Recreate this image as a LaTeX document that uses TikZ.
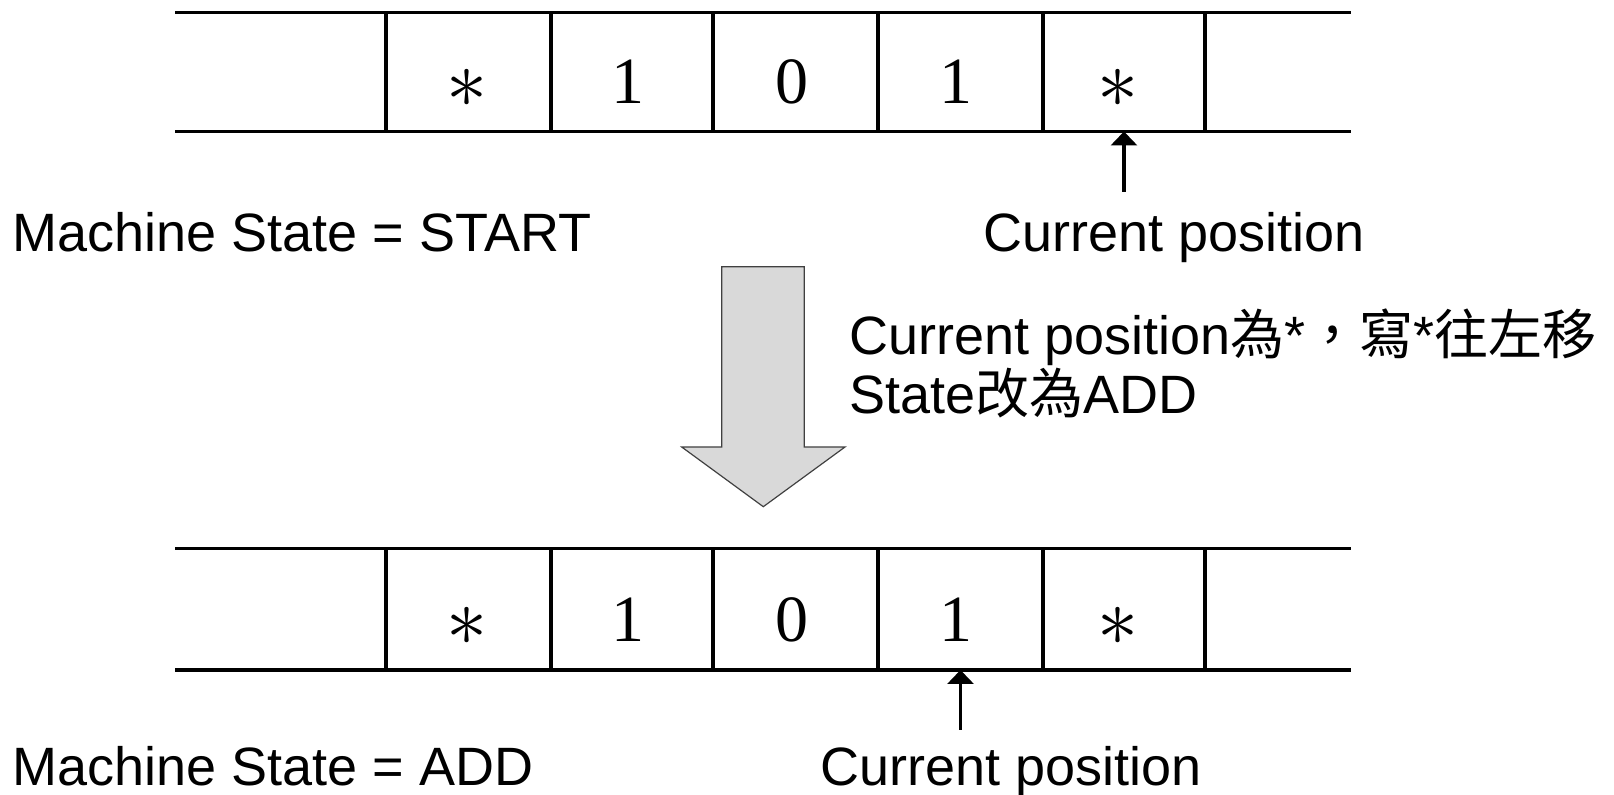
\documentclass[tikz,border=0pt]{standalone}
\usepackage{graphicx}
\usepackage{fontspec}
\setmainfont{Liberation Sans}
\newfontfamily\cjk{Noto Sans CJK TC}
\newfontfamily\tapefont{Liberation Serif}
\usetikzlibrary{arrows.meta}
\newcommand\tapeast{\raisebox{-1.6pt}{\scalebox{1.65}{$\ast$}}}
\begin{document}
\begin{tikzpicture}[x=0.5pt,y=-0.5pt,
  tapeline/.style={line width=1.7pt, line cap=butt},
  cellsym/.style={font=\tapefont\fontsize{33}{33}\selectfont, anchor=base, inner sep=0pt},
  lbl/.style={font=\fontsize{27}{32}\selectfont, anchor=base west, inner sep=0pt},
  pointer/.style={line width=1.6pt, -{Triangle[width=13pt,length=7pt]}},
  bigarrow/.style={fill=black!15, draw=black!75, line width=0.6pt, line join=miter},
]
\useasboundingbox (0,0) rectangle (1614,795);

% two tapes: top edge, bottom edge, baseline of the symbols
\foreach \t/\ya/\yb/\yt in {A/12.5/131.5/104, B/548.5/670/642} {
  \draw[tapeline] (175,\ya) -- (1351,\ya);
  \draw[tapeline] (175,\yb) -- (1351,\yb);
  \foreach \x in {386,551,713,878,1043,1205}
    \draw[tapeline] (\x,\ya) -- (\x,\yb);
  \foreach \i/\cx/\s in {1/467/\tapeast,2/628/1,3/792/0,4/956/1,5/1118/\tapeast} {
    \node[cellsym] (\t\i) at (\cx,\yt) {\s};
  }
}

% head position markers
\coordinate (A5b) at (1124,131.5);
\coordinate (B4b) at (960.5,670);
\coordinate (hA) at (1124,192);
\draw[pointer] (hA) -- (A5b);
\coordinate (hB) at (960.5,730);
\draw[pointer] (hB) -- (B4b);

\node[lbl] (stA) at (12,252) {Machine State = START};
\node[lbl] (posA) at (983,252) {Current position};

% transition arrow
\draw[bigarrow] (721.7,266.7) -- (804.3,266.7) -- (804.3,447) -- (845,447)
  -- (763.3,506.7) -- (681.7,447) -- (721.7,447) -- cycle;

\node[lbl] (rule1) at (849,355) {Current position{\cjk 為}*{\cjk ，寫}*{\cjk 往左移}};
\node[lbl] (rule2) at (849,414) {State{\cjk 改為}ADD};

\node[lbl] (stB) at (12,786) {Machine State = ADD};
\node[lbl] (posB) at (820,786) {Current position};
\end{tikzpicture}
\end{document}
